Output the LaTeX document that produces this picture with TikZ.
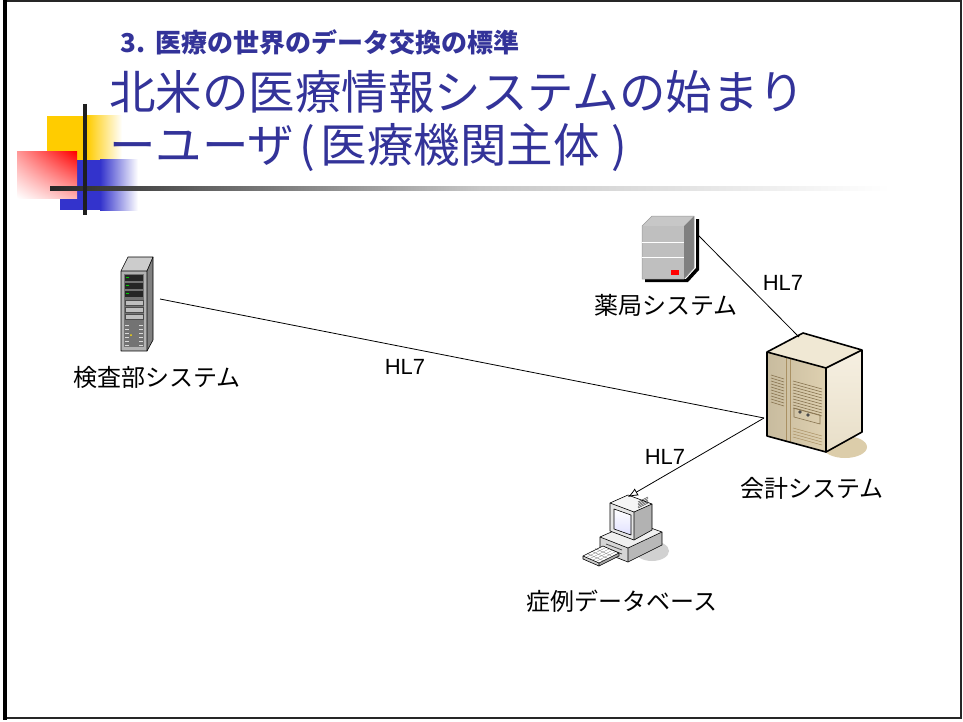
\documentclass[tikz,border=0pt]{standalone}
\usepackage{fontspec}
\setmainfont{Liberation Sans}
\newfontfamily\jp{Noto Sans CJK JP}
\usetikzlibrary{arrows.meta,shadings}
\definecolor{titleblue}{RGB}{51,51,153}
\definecolor{logoyellow}{RGB}{255,204,0}
\definecolor{logoblue}{RGB}{51,51,204}
\definecolor{beigetop}{RGB}{240,232,212}
\definecolor{beigefront}{RGB}{222,208,176}
\definecolor{beigeside}{RGB}{246,240,226}
\definecolor{beigeline}{RGB}{170,145,100}
\definecolor{beigeshadow}{RGB}{220,205,170}
\begin{document}
\begin{tikzpicture}[x=1pt,y=-1pt,
  lbl/.style={font=\jp\fontsize{24}{28}\selectfont, inner sep=0pt},
  hl/.style={font=\fontsize{22}{26}\selectfont, inner sep=0pt},
  link/.style={draw=black, line width=0.8pt},
  edge/.style={draw=black, line width=0.6pt, line join=round},
  thick edge/.style={draw=black, line width=1.6pt, line join=round}]
\useasboundingbox (0,0) rectangle (963,722);

% slide frame
\draw[line width=1.5pt, black!85] (5,1) rectangle (961,718);
\draw[line width=4pt] (5,0) -- (5,720);

% corner logo
\fill[logoyellow] (47,116) rectangle (87,160);
\shade[left color=logoyellow, right color=white] (87,116) rectangle (122,160);
\fill[logoblue] (60,160) rectangle (100,210);
\shade[left color=logoblue, right color=white] (100,160) rectangle (138,210);
\shade[upper left=red!40, upper right=red, lower left=white, lower right=red!30] (17,152) rectangle (77,198);
\shade[left color=black!85, right color=black!62] (50,187) rectangle (200,191);
\shade[left color=black!62, right color=black!22] (200,187) rectangle (480,191);
\shade[left color=black!22, right color=white] (480,187) rectangle (890,191);
\draw[line width=4pt, black!88] (85,104) -- (85,215);

% headings
\node[anchor=west, inner sep=0pt, text=titleblue, font=\jp\bfseries\fontsize{26}{30}\selectfont] (sub) at (120,42) {3.\hspace{10pt}医療の世界のデータ交換の標準};
\node[anchor=west, inner sep=0pt, text=titleblue, font=\jp\fontsize{46.5}{52}\selectfont] (title1) at (109,92) {北米の医療情報システムの始まり};
\node[anchor=west, inner sep=0pt, text=titleblue, font=\jp\fontsize{46.5}{52}\selectfont] (title2) at (109,148) {ーユーザ\hspace{5pt}(\hspace{6pt}医療機関主体\hspace{12pt})};

% lab server: slim tower
\fill[black!20] (121,271) -- (128,257) -- (153,257) -- (147,271) -- cycle;
\fill[black!50] (147,271) -- (153,257) -- (153,340) -- (147,351) -- cycle;
\fill[black!30] (121,271) rectangle (147,351);
\draw[edge] (121,271) -- (128,257) -- (153,257) -- (153,340) -- (147,351) -- (121,351) -- cycle;
\draw[edge] (121,271) -- (147,271) -- (153,257) (147,271) -- (147,351);
\fill[black!55] (124,274) rectangle (144,347);
\foreach \y in {275,283,291} {
  \fill[black!85] (125,\y) rectangle (143,\y+6);
  \fill[green!80!black] (126,\y+2) rectangle (129,\y+3);
}
\foreach \y in {300,307,314} {
  \fill[black!25] (125,\y) rectangle (143,\y+5);
  \draw[black!70, line width=0.4pt] (125,\y) rectangle (143,\y+5);
}
\foreach \y in {325,329,...,345} {
  \draw[black!15, line width=0.8pt] (125,\y) -- (129,\y) (139,\y) -- (143,\y);
}
\fill[yellow!80!orange] (131,335) circle (1pt);
\coordinate (labport) at (160,299);

% pharmacy server: small box
\fill[black] (696,219) -- (699,219) -- (699,270) -- (688,282) -- (645,282) -- (645,279) -- (686,279) -- (696,268) -- cycle;
\fill[black!22] (642,226) -- (652,216) -- (694,216) -- (684,226) -- cycle;
\fill[black!50] (684,226) -- (694,216) -- (694,268) -- (684,279) -- cycle;
\fill[black!25] (642,226) rectangle (684,279);
\draw[black!40, line width=0.5pt] (642,226) -- (652,216) -- (694,216) -- (694,268) -- (684,279) -- (642,279) -- cycle;
\draw[white, line width=1pt] (642,242) -- (684,242) (642,257) -- (684,257);
\fill[red] (671,270) rectangle (679,275);
\coordinate (pharmport) at (697,234);

% accounting server: large cabinet
\fill[beigeshadow] (845,447) ellipse (22pt and 11pt);
\fill[beigetop] (767,352) -- (803,333) -- (862,350) -- (826,368) -- cycle;
\shade[top color=beigeside, bottom color=beigefront!70] (826,368) -- (862,350) -- (862,432) -- (826,452) -- cycle;
\shade[left color=beigefront!90!black, right color=beigefront] (767,352) -- (826,368) -- (826,452) -- (767,436) -- cycle;
\draw[beigeline, line width=0.6pt] (786,357) -- (786,441);
\draw[beigeline, line width=0.6pt] (790,358) -- (790,442);
\foreach \i in {0,...,9} {
  \draw[beigeline!80!black, line width=0.6pt] (771,375+3*\i) -- (784,379+3*\i);
  \draw[beigeline!80!black, line width=0.6pt] (793,381+3*\i) -- (822,389+3*\i);
}
\foreach \i in {0,...,3} {
  \draw[beigeline, line width=0.5pt] (793,428+3*\i) -- (822,436+3*\i);
}
\draw[beigeline!80!black, line width=0.6pt] (794,408) -- (820,415) -- (820,424) -- (794,417) -- cycle;
\fill[black!70] (800,412) circle (1.8pt) (808,415) circle (1.8pt);
\draw[thick edge] (767,352) -- (803,333) -- (862,350) -- (862,432) -- (826,452) -- (767,436) -- cycle;
\draw[thick edge] (767,352) -- (826,368) -- (862,350) (826,368) -- (826,452);
\coordinate (acctop) at (799,337);
\coordinate (accleft) at (764,418);

% case database: desktop computer
\fill[black!18] (652,551) ellipse (17pt and 10pt);
\fill[black!28] (628,548) -- (662,532) -- (662,545) -- (628,562) -- cycle;
\fill[black!6] (600,537) -- (634,522) -- (662,532) -- (628,548) -- cycle;
\fill[black!16] (600,537) -- (628,548) -- (628,562) -- (600,551) -- cycle;
\draw[edge] (600,537) -- (634,522) -- (662,532) -- (662,545) -- (628,562) -- (600,551) -- cycle;
\draw[edge] (600,537) -- (628,548) -- (662,532) (628,548) -- (628,562);
\draw[black!70, line width=0.8pt] (606,544) -- (622,550) (606,548) -- (622,554);
\fill[black!4] (610,503) -- (628,495) -- (652,504) -- (634,512) -- cycle;
\fill[black!30] (634,512) -- (652,504) -- (652,530) -- (634,540) -- cycle;
\fill[black!10] (610,503) -- (634,512) -- (634,540) -- (610,531) -- cycle;
\shade[top color=white, bottom color=blue!12] (614,509) -- (631,515) -- (631,535) -- (614,529) -- cycle;
\draw[edge] (614,509) -- (631,515) -- (631,535) -- (614,529) -- cycle;
\foreach \i in {0,...,4} {
  \draw[black!70, line width=0.5pt] (638,502+1.5*\i) -- (648,497+1.5*\i);
}
\draw[edge] (610,503) -- (628,495) -- (652,504) -- (652,530) -- (634,540) -- (610,531) -- cycle;
\draw[edge] (610,503) -- (634,512) -- (652,504) (634,512) -- (634,540);
\fill[white] (583,556) -- (603,546) -- (619,553) -- (599,563) -- cycle;
\fill[black!20] (583,556) -- (599,563) -- (599,566) -- (583,559) -- cycle;
\fill[black!35] (599,563) -- (619,553) -- (619,556) -- (599,566) -- cycle;
\foreach \i in {1,2,3} {
  \draw[black!45, line width=0.4pt] (583+4*\i,556-2*\i*1.25) -- (599+4*\i,563-2*\i*1.25);
}
\foreach \i in {1,...,4} {
  \draw[black!45, line width=0.4pt] (583+3.2*\i,556+1.4*\i) -- (603+3.2*\i,546+1.4*\i);
}
\draw[edge] (583,556) -- (603,546) -- (619,553) -- (619,556) -- (599,566) -- (583,559) -- cycle;
\draw[edge] (583,556) -- (599,563) -- (619,553) (599,563) -- (599,566);
\coordinate (pcport) at (628,497);

% labels
\node[lbl] (lab) at (157,377) {検査部システム};
\node[lbl] (pharm) at (666,305) {薬局システム};
\node[lbl] (acc) at (812,488) {会計システム};
\node[lbl] (db) at (622,601) {症例データベース};

% HL7 connections
\draw[link] (labport) -- (accleft);
\draw[link] (pharmport) -- (acctop);
\draw[link, -{Latex[open, length=10pt, width=8pt]}] (accleft) -- (pcport);
\node[hl] (hl1) at (405,367) {HL7};
\node[hl] (hl2) at (783,283) {HL7};
\node[hl] (hl3) at (665,457) {HL7};
\end{tikzpicture}
\end{document}
